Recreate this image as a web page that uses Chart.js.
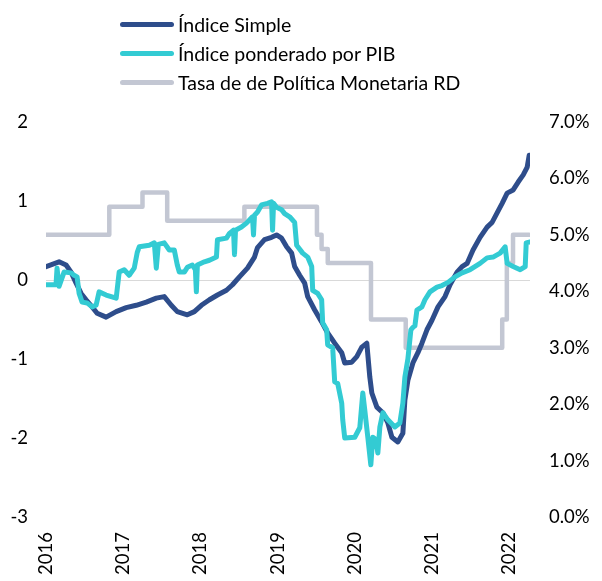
<!DOCTYPE html>
<html lang="es">
<head>
    <meta charset="UTF-8">
    <title>Índice Simple, Índice ponderado por PIB y TPM RD</title>
    <script src="https://cdn.jsdelivr.net/npm/chart.js"></script>
    <style>
        body {
            margin: 0;
            background: #fff;
            font-family: Lato, "Open Sans", Arial, sans-serif;
        }
        #wrap {
            position: relative;
            width: 602px;
            height: 581px;
        }
        #legend {
            position: absolute;
            left: 120px;
            top: 10px;
            font-size: 19.5px;
            color: #000;
        }
        .item {
            display: flex;
            align-items: center;
            height: 29px;
        }
        .swatch {
            width: 54px;
            height: 5px;
            border-radius: 3px;
            margin-right: 4px;
        }
    </style>
</head>
<body>
<div id="wrap">
    <canvas id="chart" width="602" height="581"></canvas>
    <div id="legend"></div>
</div>
<script>
    // x values are decimal years
    const simpleYears = [2016.000, 2016.169, 2016.260, 2016.325, 2016.390, 2016.455, 2016.519, 2016.597, 2016.662, 2016.779,
        2016.909, 2017.039, 2017.169, 2017.299, 2017.429, 2017.532, 2017.623, 2017.701, 2017.831, 2017.922,
        2018.013, 2018.117, 2018.221, 2018.338, 2018.416, 2018.506, 2018.610, 2018.701, 2018.740, 2018.831,
        2018.922, 2018.987, 2019.052, 2019.117, 2019.182, 2019.221, 2019.286, 2019.351, 2019.390, 2019.481,
        2019.571, 2019.649, 2019.740, 2019.831, 2019.870, 2019.961, 2020.026, 2020.091, 2020.156, 2020.195,
        2020.221, 2020.286, 2020.364, 2020.429, 2020.481, 2020.558, 2020.623, 2020.649, 2020.688, 2020.753,
        2020.818, 2020.870, 2020.935, 2021.000, 2021.078, 2021.169, 2021.234, 2021.325, 2021.390, 2021.455,
        2021.532, 2021.623, 2021.714, 2021.779, 2021.844, 2021.909, 2021.974, 2022.052, 2022.117, 2022.182,
        2022.234, 2022.260];
    const simpleValues = [0.17, 0.23, 0.19, 0.10, -0.04, -0.17, -0.25, -0.34, -0.42, -0.47,
        -0.40, -0.35, -0.32, -0.28, -0.23, -0.21, -0.32, -0.40, -0.44, -0.40,
        -0.32, -0.25, -0.19, -0.13, -0.06, 0.04, 0.15, 0.29, 0.41, 0.51,
        0.54, 0.57, 0.53, 0.42, 0.34, 0.17, 0.06, -0.04, -0.21, -0.38,
        -0.53, -0.67, -0.80, -0.92, -1.05, -1.04, -0.97, -0.85, -0.80, -1.23,
        -1.43, -1.61, -1.68, -1.81, -1.99, -2.05, -1.94, -1.52, -1.27, -1.05,
        -0.92, -0.80, -0.63, -0.51, -0.34, -0.21, -0.06, 0.10, 0.17, 0.21,
        0.38, 0.54, 0.67, 0.73, 0.85, 0.97, 1.10, 1.14, 1.24, 1.33,
        1.43, 1.58];

    const pibYears = [2016.000, 2016.130, 2016.143, 2016.169, 2016.234, 2016.325, 2016.364, 2016.403, 2016.429, 2016.468,
        2016.532, 2016.597, 2016.649, 2016.688, 2016.779, 2016.909, 2016.948, 2017.013, 2017.078, 2017.143,
        2017.182, 2017.208, 2017.338, 2017.403, 2017.429, 2017.455, 2017.532, 2017.597, 2017.662, 2017.701,
        2017.727, 2017.792, 2017.831, 2017.896, 2017.935, 2017.948, 2017.961, 2018.052, 2018.117, 2018.208,
        2018.221, 2018.338, 2018.377, 2018.429, 2018.442, 2018.455, 2018.532, 2018.597, 2018.675, 2018.688,
        2018.701, 2018.740, 2018.792, 2018.870, 2018.922, 2018.935, 2018.948, 2018.987, 2019.052, 2019.091,
        2019.156, 2019.221, 2019.247, 2019.325, 2019.390, 2019.442, 2019.455, 2019.519, 2019.571, 2019.584,
        2019.636, 2019.649, 2019.714, 2019.740, 2019.779, 2019.831, 2019.844, 2019.870, 2020.000, 2020.065,
        2020.104, 2020.130, 2020.169, 2020.208, 2020.234, 2020.273, 2020.299, 2020.325, 2020.364, 2020.429,
        2020.519, 2020.584, 2020.623, 2020.649, 2020.688, 2020.727, 2020.753, 2020.779, 2020.805, 2020.870,
        2020.909, 2020.974, 2021.065, 2021.130, 2021.208, 2021.299, 2021.390, 2021.494, 2021.623, 2021.714,
        2021.792, 2021.883, 2021.948, 2021.974, 2022.052, 2022.143, 2022.208, 2022.221, 2022.260];
    const pibValues = [-0.06, -0.06, 0.15, -0.08, 0.10, 0.09, 0.06, 0.04, -0.17, -0.28,
        -0.29, -0.34, -0.32, -0.15, -0.19, -0.23, 0.10, 0.13, 0.06, 0.15,
        0.35, 0.42, 0.44, 0.47, 0.15, 0.45, 0.47, 0.38, 0.38, 0.19,
        0.10, 0.10, 0.16, 0.19, 0.13, -0.15, 0.19, 0.23, 0.25, 0.29,
        0.51, 0.53, 0.59, 0.63, 0.32, 0.63, 0.67, 0.72, 0.80, 0.57,
        0.82, 0.86, 0.95, 0.97, 0.99, 0.63, 0.97, 0.92, 0.89, 0.84,
        0.80, 0.73, 0.44, 0.34, 0.29, 0.17, -0.13, -0.17, -0.25, -0.54,
        -0.63, -0.82, -0.86, -1.29, -1.31, -1.56, -1.77, -2.00, -1.99, -1.87,
        -1.43, -1.65, -1.99, -2.34, -1.99, -2.02, -2.19, -1.86, -1.68, -1.77,
        -1.86, -1.81, -1.56, -1.23, -1.00, -0.63, -0.60, -0.58, -0.38, -0.34,
        -0.25, -0.15, -0.09, -0.07, -0.03, 0.04, 0.09, 0.13, 0.21, 0.28,
        0.29, 0.34, 0.42, 0.21, 0.17, 0.13, 0.17, 0.47, 0.48];

    // policy rate (%), one point per change
    const tpmYears = [2016.00, 2016.82, 2017.25, 2017.57, 2018.57, 2019.51, 2019.57, 2019.65, 2020.21, 2020.66,
        2021.91, 2021.97, 2022.05, 2022.26];
    const tpmValues = [5.0, 5.5, 5.75, 5.25, 5.5, 5.0, 4.75, 4.5, 3.5, 3.0,
        3.5, 4.5, 5.0, 5.0];

    const seriesNames = ['Índice Simple', 'Índice ponderado por PIB', 'Tasa de de Política Monetaria RD'];
    const colors = ['#2E4D8B', '#33CBD3', '#C3C7D3'];

    const toPoints = (xs, ys) => xs.map((x, i) => ({ x: x, y: ys[i] }));
    const font = { family: 'Lato, "Open Sans", Arial, sans-serif', size: 18.5 };

    const chart = new Chart(document.getElementById('chart'), {
        type: 'line',
        data: {
            datasets: [
                {
                    label: seriesNames[0],
                    data: toPoints(simpleYears, simpleValues),
                    borderColor: colors[0],
                    borderWidth: 5,
                    yAxisID: 'y',
                    order: 1
                },
                {
                    label: seriesNames[1],
                    data: toPoints(pibYears, pibValues),
                    borderColor: colors[1],
                    borderWidth: 5,
                    yAxisID: 'y',
                    order: 0
                },
                {
                    label: seriesNames[2],
                    data: toPoints(tpmYears, tpmValues),
                    borderColor: colors[2],
                    borderWidth: 4.5,
                    stepped: true,
                    yAxisID: 'y2',
                    order: 2
                }
            ]
        },
        options: {
            responsive: false,
            animation: false,
            elements: {
                point: { radius: 0 },
                line: { tension: 0, borderJoinStyle: 'round', borderCapStyle: 'round' }
            },
            layout: { padding: { top: 122, left: 0, right: 0, bottom: 0 } },
            plugins: {
                legend: { display: false },
                tooltip: { enabled: false }
            },
            scales: {
                x: {
                    type: 'linear',
                    min: 2016,
                    max: 2022.27,
                    grid: { display: false, drawTicks: false },
                    border: { display: false },
                    ticks: {
                        stepSize: 1,
                        includeBounds: false,
                        autoSkip: false,
                        minRotation: 90,
                        maxRotation: 90,
                        padding: 15,
                        color: '#000',
                        font: font,
                        callback: v => String(v)
                    },
                    afterFit: s => { s.height = 64; }
                },
                y: {
                    position: 'left',
                    min: -3,
                    max: 2,
                    border: { display: false },
                    grid: {
                        drawTicks: false,
                        color: c => c.tick && c.tick.value === 0 ? '#D9D9D9' : 'rgba(0,0,0,0)'
                    },
                    ticks: {
                        stepSize: 1,
                        padding: 18,
                        color: '#000',
                        font: font,
                        callback: v => String(v)
                    },
                    afterFit: s => { s.width = 46; }
                },
                y2: {
                    position: 'right',
                    min: 0,
                    max: 7,
                    border: { display: false },
                    grid: { display: false, drawTicks: false },
                    ticks: {
                        stepSize: 1,
                        padding: 19,
                        color: '#000',
                        font: font,
                        callback: v => v.toFixed(1) + '%'
                    },
                    afterFit: s => { s.width = 72; }
                }
            }
        }
    });

    // legend stacked one item per row, built from the datasets
    const legend = document.getElementById('legend');
    chart.data.datasets.forEach(ds => {
        const row = document.createElement('div');
        row.className = 'item';
        row.innerHTML = '<span class="swatch" style="background:' + ds.borderColor + '"></span>' + ds.label;
        legend.appendChild(row);
    });
</script>
</body>
</html>
